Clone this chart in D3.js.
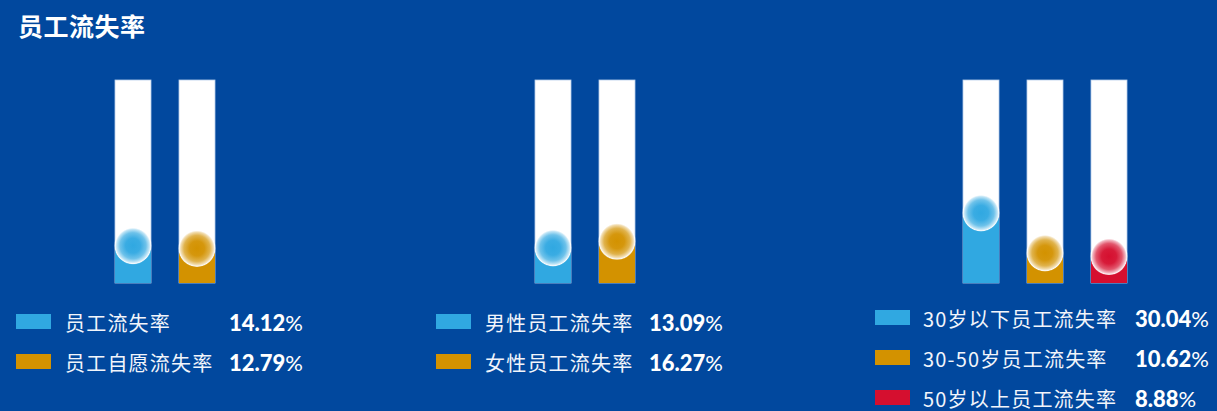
<!DOCTYPE html>
<html>
<head>
<meta charset="utf-8">
<script src="https://cdn.jsdelivr.net/npm/d3@7/dist/d3.min.js"></script>
<style>
  html, body { margin: 0; padding: 0; background: #01489e; }
  svg { display: block; }
</style>
</head>
<body>
<svg id="chart" width="1217" height="411"></svg>
<script>
// ---- data ----
const chartTitle = "员工流失率";
const panel1Labels = ["员工流失率", "员工自愿流失率"];
const panel1Values = [14.12, 12.79];
const panel2Labels = ["男性员工流失率", "女性员工流失率"];
const panel2Values = [13.09, 16.27];
const panel3Labels = ["30岁以下员工流失率", "30-50岁员工流失率", "50岁以上员工流失率"];
const panel3Values = [30.04, 10.62, 8.88];
const seriesColors = ["#30a8e1", "#d39200", "#d50f2f"];
const valueDomain = [-4, 94.6];

// ---- layout ----
const W = 1217, H = 411;
const barTop = 80, barBottom = 283;
const panels = [
  { labels: panel1Labels, values: panel1Values, bx0: 115, bx1: 215, sw: 16, lx: 65, vx: 229, ly: 314 },
  { labels: panel2Labels, values: panel2Values, bx0: 535, bx1: 635, sw: 436, lx: 485, vx: 649, ly: 314 },
  { labels: panel3Labels, values: panel3Values, bx0: 963, bx1: 1127, sw: 875, lx: 923, vx: 1135, ly: 310 }
];

const svg = d3.select("#chart");
svg.append("rect").attr("width", W).attr("height", H).attr("fill", "#01489e");

const defs = svg.append("defs");
seriesColors.forEach((c, i) => {
  const mix = t => d3.interpolateRgb(c, "#ffffff")(t);
  const g = defs.append("radialGradient").attr("id", "ball" + i)
    .attr("cx", "50%").attr("cy", "50%").attr("r", "50%");
  g.append("stop").attr("offset", "0%").attr("stop-color", c);
  g.append("stop").attr("offset", "40%").attr("stop-color", mix(0.05));
  g.append("stop").attr("offset", "70%").attr("stop-color", mix(0.3));
  g.append("stop").attr("offset", "88%").attr("stop-color", mix(0.7));
  g.append("stop").attr("offset", "96%").attr("stop-color", "#ffffff").attr("stop-opacity", 0.95);
  g.append("stop").attr("offset", "100%").attr("stop-color", "#ffffff").attr("stop-opacity", 0.5);
});

svg.append("text")
  .attr("x", 18).attr("y", 25)
  .attr("dominant-baseline", "central")
  .attr("fill", "#ffffff")
  .attr("font-family", "'Noto Sans CJK SC', sans-serif")
  .attr("font-weight", "bold")
  .attr("font-size", 25)
  .attr("letter-spacing", 0.5)
  .text(chartTitle);

const y = d3.scaleLinear().domain(valueDomain).range([barBottom, barTop]);

panels.forEach(p => {
  const x = d3.scaleBand().domain(p.labels).range([p.bx0, p.bx1]).paddingInner(0.4375).paddingOuter(0);
  const g = svg.append("g");
  const items = p.labels.map((l, i) => ({ label: l, value: p.values[i], color: seriesColors[i], i }));

  g.selectAll(".bg").data(items).join("rect")
    .attr("x", d => x(d.label)).attr("y", y(valueDomain[1]))
    .attr("width", x.bandwidth()).attr("height", y(valueDomain[0]) - y(valueDomain[1]))
    .attr("fill", "#ffffff")
    .attr("stroke", "#b7cdea").attr("stroke-width", 0.8);

  g.selectAll(".fill").data(items).join("rect")
    .attr("x", d => x(d.label)).attr("y", d => y(d.value))
    .attr("width", x.bandwidth()).attr("height", d => y(valueDomain[0]) - y(d.value))
    .attr("fill", d => d.color);

  g.selectAll(".ball").data(items).join("circle")
    .attr("cx", d => x(d.label) + x.bandwidth() / 2)
    .attr("cy", d => y(d.value))
    .attr("r", 18.6)
    .attr("fill", d => `url(#ball${d.i})`);

  const lg = g.selectAll(".lg").data(items).join("g")
    .attr("transform", (d, i) => `translate(0,${p.ly + i * 40})`);
  lg.append("rect").attr("x", p.sw).attr("y", 0).attr("width", 35).attr("height", 15).attr("fill", d => d.color);
  lg.append("text")
    .attr("x", p.lx).attr("y", 8.5)
    .attr("dominant-baseline", "central")
    .attr("fill", "#f2f5fb")
    .attr("font-family", "'Noto Sans CJK SC', sans-serif")
    .attr("font-size", 20)
    .attr("letter-spacing", 1.2)
    .text(d => d.label);
  const vt = lg.append("text")
    .attr("x", p.vx).attr("y", 8)
    .attr("dominant-baseline", "central")
    .attr("fill", "#ffffff")
    .attr("font-family", "Lato, sans-serif")
    .attr("font-size", 22);
  vt.append("tspan").attr("font-weight", 900).text(d => d.value.toFixed(2));
  vt.append("tspan").attr("font-weight", "normal").attr("font-size", 22).text("%");
});
</script>
</body>
</html>
